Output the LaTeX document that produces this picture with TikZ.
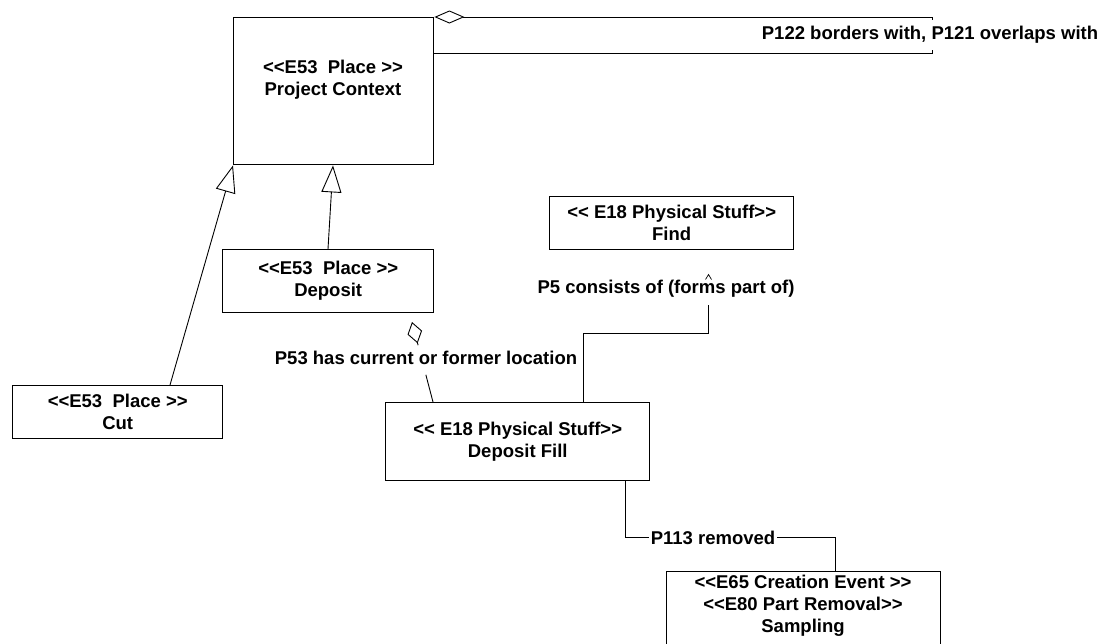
\documentclass[tikz,border=0pt]{standalone}
\usepackage{fontspec}
\setmainfont{Liberation Sans}
\usetikzlibrary{arrows.meta,calc}
\newcommand\ltlt{<\kern0pt<}
\newcommand\gtgt{>\kern0pt>}
\begin{document}
\begin{tikzpicture}[x=1pt,y=-1pt,
  box/.style={draw, line width=1.4pt, inner sep=0pt, anchor=north west},
  lbl/.style={font=\fontsize{18.5}{22}\selectfont\bfseries, align=center, inner sep=1pt},
  conn/.style={line width=0.9pt},
  gen/.style={conn, -{Triangle[open, length=27pt, width=20pt]}},
  agg/.style={conn, {Diamond[open, length=30pt, width=13pt]}-},
  aggend/.style={conn, -{Diamond[open, length=22pt, width=15pt]}}]
\useasboundingbox (0,0) rectangle (1118,643);

% boxes
\node[box, minimum width=200pt, minimum height=147pt] (pc) at (233,17) {};
\node[lbl] (pct) at (333,80) {\ltlt E53~~Place \gtgt\\Project Context};
\node[box, minimum width=211pt, minimum height=63pt, lbl, inner sep=0pt] (dep) at (222,249) {\ltlt E53~~Place \gtgt\\Deposit};
\node[box, minimum width=210pt, minimum height=53pt, lbl, inner sep=0pt] (cut) at (12,385) {\ltlt E53~~Place \gtgt\\Cut};
\node[box, minimum width=244pt, minimum height=53pt, lbl, inner sep=0pt] (find) at (549,196) {\ltlt{} E18 Physical Stuff\gtgt\\Find};
\node[box, minimum width=264pt, minimum height=78pt, lbl, inner sep=0pt] (df) at (385,402) {\ltlt{} E18 Physical Stuff\gtgt\\Deposit Fill};
\node[box, minimum width=274pt, minimum height=85pt] (samp) at (666,571) {};
\node[lbl] (sampt) at (803,606) {\ltlt E65 Creation Event \gtgt\\\ltlt E80 Part Removal\gtgt\\Sampling};

% generalizations
\draw[gen] ($(cut.north west)+(158,0)$) -- (pc.south west);
\draw[gen] ($(dep.north west)+(106,0)$) -- ($(pc.south west)+(100,0)$);

% self association on Project Context
\coordinate (loopA) at (932,17);
\coordinate (loopB) at (932,53);
\draw[agg] (pc.north east) -- (loopA) -- (loopB) -- (pc.east |- loopB);
\node[lbl, fill=white, inner ysep=6pt] (l122) at (930,35) {P122 borders with, P121 overlaps with};

% P53
\coordinate (p53a) at (412,322);
\coordinate (p53b) at ($(df.north west)+(48,0)$);
\draw[aggend] ($(p53a)!0.29!(p53b)$) -- (p53a);
\draw[conn] ($(p53a)!0.66!(p53b)$) -- (p53b);
\node[lbl] (l53) at (426,358) {P53 has current or former location};

% P5
\coordinate (p5c) at (708,305);
\draw[conn] ($(df.north west)+(198,0)$) |- (708,333) -- (p5c);
\node[lbl] (l5) at (666,289) {P5 consists of (forms part of)};
\draw[line width=0.7pt] (705.5,279.5) -- (708.5,274.5) -- (711.5,279.5);

% P113
\coordinate (p113c) at (835,537);
\draw[conn] ($(df.south west)+(240,0)$) |- (p113c) -- ($(samp.north west)+(169,0)$);
\node[lbl, fill=white, inner xsep=2pt] (l113) at (713,538) {P113 removed};
\end{tikzpicture}
\end{document}
